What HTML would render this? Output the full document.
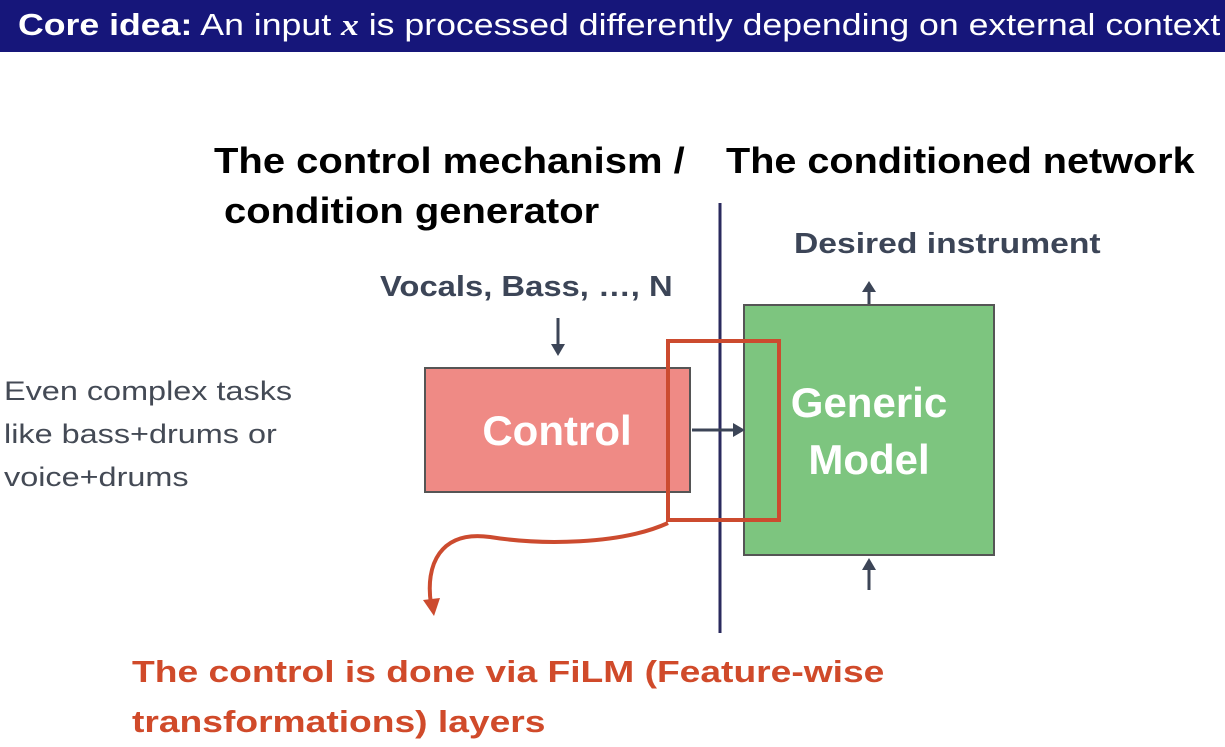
<!DOCTYPE html><html><head><style>
body{margin:0;width:1225px;height:739px;background:#fff;position:relative;overflow:hidden;font-family:"Liberation Sans",sans-serif}
.t{position:absolute;white-space:nowrap;transform-origin:0 0}
</style></head><body>
<div style="position:absolute;left:0;top:0;width:1225px;height:52px;background:#16167a"></div>
<div class="t" style="left:18px;top:7px;font-size:31px;color:#fff;transform:scaleX(1.15)"><b>Core idea:</b> An input <i style="font-family:'Liberation Serif',serif;font-weight:bold">x</i> is processed differently depending on external context</div>
<div class="t" style="left:214px;top:140px;font-size:36px;font-weight:bold;color:#000;transform:scaleX(1.11)">The control mechanism /</div>
<div class="t" style="left:224px;top:190px;font-size:36px;font-weight:bold;color:#000;transform:scaleX(1.11)">condition generator</div>
<div class="t" style="left:726px;top:140px;font-size:36px;font-weight:bold;color:#000;transform:scaleX(1.10)">The conditioned network</div>
<div class="t" style="left:794px;top:228px;font-size:29px;font-weight:bold;color:#3c4557;transform:scaleX(1.16)">Desired instrument</div>
<div class="t" style="left:380px;top:271px;font-size:29px;font-weight:bold;color:#3c4557;transform:scaleX(1.13)">Vocals, Bass, …, N</div>
<div class="t" style="left:4px;top:370px;font-size:27px;color:#444a55;line-height:43px;transform:scaleX(1.2)">Even complex tasks<br>like bass+drums or<br>voice+drums</div>
<div class="t" style="left:132px;top:647px;font-size:31px;font-weight:bold;color:#d04a2a;line-height:50px;transform:scaleX(1.2)">The control is done via FiLM (Feature-wise<br>transformations) layers</div>
<svg width="1225" height="739" style="position:absolute;left:0;top:0">
<rect x="425" y="368" width="265" height="124" fill="#ef8a85" stroke="#555" stroke-width="2"/>
<rect x="744" y="305" width="250" height="250" fill="#7dc57f" stroke="#555" stroke-width="2"/>
<line x1="720" y1="203" x2="720" y2="633" stroke="#2a2a5e" stroke-width="3"/>
<line x1="558" y1="318" x2="558" y2="348" stroke="#3c4557" stroke-width="3"/><polygon points="551,344 565,344 558,356" fill="#3c4557"/>
<line x1="692" y1="430" x2="735" y2="430" stroke="#3c4557" stroke-width="3"/><polygon points="733,423 733,437 745,430" fill="#3c4557"/>
<line x1="869" y1="288" x2="869" y2="304" stroke="#3c4557" stroke-width="3"/><polygon points="862,292 876,292 869,281" fill="#3c4557"/>
<line x1="869" y1="566" x2="869" y2="590" stroke="#3c4557" stroke-width="3"/><polygon points="862,570 876,570 869,558" fill="#3c4557"/>
<text x="557" y="445" font-size="42" font-weight="bold" fill="#fff" text-anchor="middle" font-family="Liberation Sans,sans-serif">Control</text>
<text x="869" y="417" font-size="42" font-weight="bold" fill="#fff" text-anchor="middle" font-family="Liberation Sans,sans-serif">Generic</text>
<text x="869" y="474" font-size="42" font-weight="bold" fill="#fff" text-anchor="middle" font-family="Liberation Sans,sans-serif">Model</text>
<rect x="668" y="341" width="111" height="179" fill="none" stroke="#cc4b2f" stroke-width="4"/>
<path d="M668,523 C620,545 540,545 490,537 C440,530 425,565 431,604" fill="none" stroke="#cc4b2f" stroke-width="4"/>
<polygon points="423,600 440,598 434,616" fill="#cc4b2f"/>
</svg>
</body></html>
